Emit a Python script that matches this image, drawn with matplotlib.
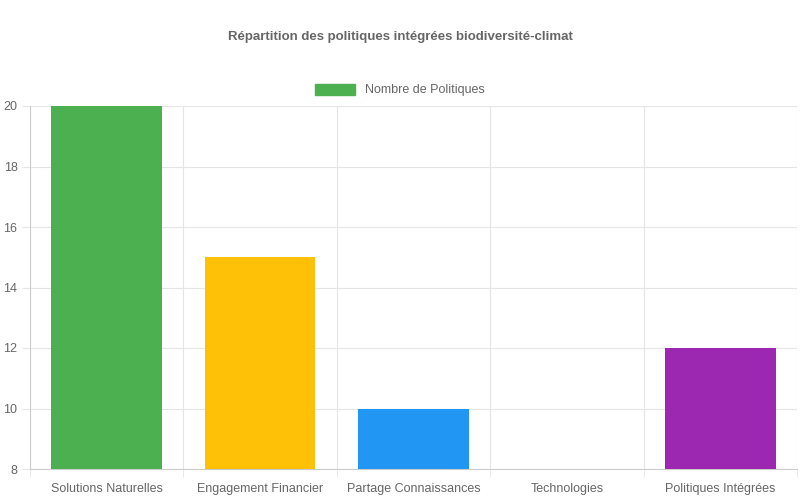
import matplotlib
matplotlib.use("Agg")
import matplotlib.pyplot as plt
from matplotlib.patches import Patch

categories = ["Solutions Naturelles", "Engagement Financier", "Partage Connaissances", "Technologies", "Politiques Intégrées"]
values = [20, 15, 10, 8, 12]
colors = ["#4caf50", "#ffc107", "#2196f3", "#ff5722", "#9c27b0"]
yticks = [8, 10, 12, 14, 16, 18, 20]

plt.rcParams['font.family'] = ['Liberation Sans', 'DejaVu Sans']
fig = plt.figure(figsize=(8, 5), dpi=100)
ax = fig.add_axes([30/800, 1-469/500, 767/800, 363/500])
x = range(len(categories))
ax.bar(x, [v - 8 for v in values], bottom=8, width=0.72, color=colors, zorder=3)
ax.set_xlim(-0.5, len(categories) - 0.5)
ax.set_ylim(8, 20)
ax.set_yticks(yticks)
ax.set_yticklabels([str(t) for t in yticks], color="#666666", fontsize=9)
ax.set_xticks(list(x))
ax.set_xticklabels(categories, color="#666666", fontsize=9)
ax.set_xticks([i + 0.5 for i in range(-1, len(categories))], minor=True)
ax.grid(True, which="minor", axis="x", color="#e5e5e5", lw=0.8, zorder=0)
ax.grid(True, which="major", axis="y", color="#e5e5e5", lw=0.8, zorder=0)
ax.tick_params(axis="x", which="major", length=0, pad=10)
ax.tick_params(axis="x", which="minor", length=6, color="#e5e5e5")
ax.tick_params(axis="y", length=6, color="#e5e5e5", pad=3)
for s in ["top", "right"]:
    ax.spines[s].set_visible(False)
for s in ["left", "bottom"]:
    ax.spines[s].set_color("#cccccc")
fig.text(0.5, 1-37/500, "Répartition des politiques intégrées biodiversité-climat",
         ha="center", va="center", fontsize=9.5, fontweight="bold", color="#666666")
fig.legend(handles=[Patch(color="#4caf50", label="Nombre de Politiques")],
           loc="center", bbox_to_anchor=(0.5, 1-90/500), frameon=False,
           fontsize=9, labelcolor="#666666", handlelength=3.2, handleheight=1.0)
fig.savefig("out.png", dpi=100)
